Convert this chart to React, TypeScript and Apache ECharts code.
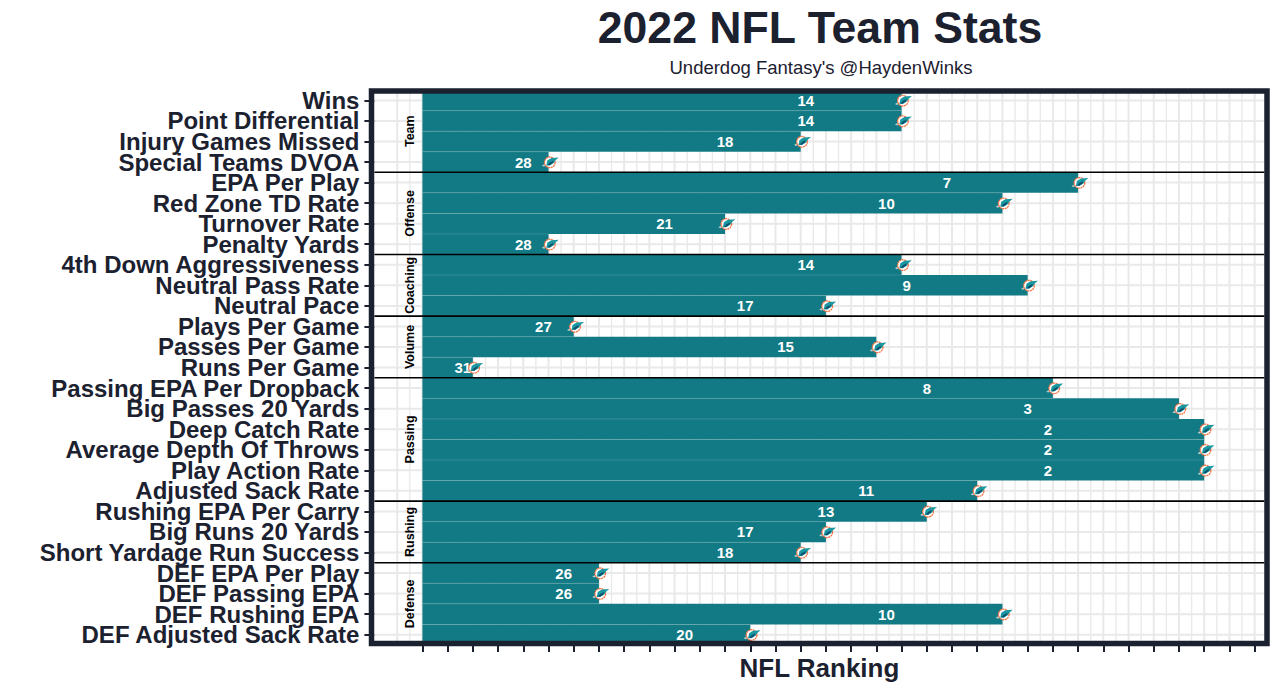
import React, { useEffect, useRef } from "react";
import * as echarts from "echarts";

const statNames = [
  "Wins", "Point Differential", "Injury Games Missed", "Special Teams DVOA",
  "EPA Per Play", "Red Zone TD Rate", "Turnover Rate", "Penalty Yards",
  "4th Down Aggressiveness", "Neutral Pass Rate", "Neutral Pace",
  "Plays Per Game", "Passes Per Game", "Runs Per Game",
  "Passing EPA Per Dropback", "Big Passes 20 Yards", "Deep Catch Rate",
  "Average Depth Of Throws", "Play Action Rate", "Adjusted Sack Rate",
  "Rushing EPA Per Carry", "Big Runs 20 Yards", "Short Yardage Run Success",
  "DEF EPA Per Play", "DEF Passing EPA", "DEF Rushing EPA", "DEF Adjusted Sack Rate",
];
const ranks = [14, 14, 18, 28, 7, 10, 21, 28, 14, 9, 17, 27, 15, 31, 8, 3, 2, 2, 2, 11, 13, 17, 18, 26, 26, 10, 20];
const groupNames = ["Team", "Offense", "Coaching", "Volume", "Passing", "Rushing", "Defense"];
const groupSizes = [4, 4, 3, 3, 6, 3, 4];
const TEAM_COUNT = 33;
const tickValues = Array.from({ length: 34 }, (_, i) => i);
const gridMajor = [-1, ...tickValues];
const gridMinor = [-0.5, ...tickValues.slice(0, -1).map((t) => t + 0.5)];

const INK = "#1c2130";
const TEAL = "#127a84";
const lengths = ranks.map((r) => TEAM_COUNT - r);

const groupRanges: { name: string; start: number; end: number }[] = [];
groupNames.reduce((start, name, i) => {
  groupRanges.push({ name, start, end: start + groupSizes[i] - 1 });
  return start + groupSizes[i];
}, 0);

const poly = (points: number[][], fill: string) => ({
  type: "polygon",
  shape: { points },
  style: { fill, stroke: "none" },
});

export default function App() {
  const ref = useRef<HTMLDivElement>(null);
  useEffect(() => {
    document.body.style.margin = "0";
    const chart = echarts.init(ref.current!, undefined, { renderer: "svg" });
    const scale = 25.22;
    const ruleSeries = (values: number[], width: number, z: number) => ({
      type: "custom",
      silent: true,
      z,
      clip: false,
      data: values.map((v) => [v, 0]),
      renderItem: (params: any, api: any) => {
        const cs = params.coordSys;
        const p = api.coord([api.value(0), 0]);
        return {
          type: "line",
          shape: { x1: p[0], y1: cs.y, x2: p[0], y2: cs.y + cs.height },
          style: { stroke: "#e9e9e9", lineWidth: width },
        };
      },
    });
    const option: any = {
      animation: false,
      backgroundColor: "#ffffff",
      title: [
        {
          text: "2022 NFL Team Stats",
          left: 815,
          top: 0,
          textAlign: "center",
          textStyle: { fontFamily: "Liberation Sans", fontWeight: "bold", fontSize: 44.6, color: INK },
        },
        {
          text: "Underdog Fantasy's @HaydenWinks",
          left: 816,
          top: 53,
          textAlign: "center",
          textStyle: { fontFamily: "Liberation Sans", fontWeight: "normal", fontSize: 18.5, color: INK },
        },
      ],
      grid: { left: 374.4, top: 90.1, width: 890, height: 554.85, outerBoundsMode: "none" },
      xAxis: {
        type: "value",
        min: -48 / scale,
        max: 842 / scale,
        splitLine: { show: false },
        axisLine: { show: false, onZero: false },
        axisLabel: { show: false },
        axisTick: { show: true, length: 7, customValues: tickValues, lineStyle: { color: INK, width: 2 } },
        name: "NFL Ranking",
        nameLocation: "middle",
        nameGap: 10,
        nameTextStyle: { fontFamily: "Liberation Sans", fontWeight: "bold", fontSize: 26, color: INK },
      },
      yAxis: {
        type: "category",
        inverse: true,
        data: statNames,
        splitLine: { show: false },
        axisLine: { show: false, onZero: false },
        axisTick: { show: true, length: 10, alignWithLabel: true, lineStyle: { color: INK, width: 2 } },
        axisLabel: {
          interval: 0,
          margin: 15,
          fontFamily: "Liberation Sans",
          fontWeight: "bold",
          fontSize: 24,
          color: INK,
        },
      },
      series: [
        ruleSeries(gridMajor, 2, 1),
        ruleSeries(gridMinor, 1.3, 1),
        {
          type: "custom",
          silent: true,
          z: 1,
          clip: false,
          data: statNames.map((_, i) => [0, i]),
          renderItem: (params: any, api: any) => {
            const cs = params.coordSys;
            const p = api.coord([0, api.value(1)]);
            return {
              type: "line",
              shape: { x1: cs.x, y1: p[1], x2: cs.x + cs.width, y2: p[1] },
              style: { stroke: "#e9e9e9", lineWidth: 2 },
            };
          },
        },
        {
          type: "bar",
          z: 2,
          barWidth: "100%",
          silent: true,
          itemStyle: { color: TEAL },
          data: lengths.map((v, i) => ({ value: v, rank: ranks[i] })),
          label: {
            show: true,
            position: ["80%", "50%"],
            align: "center",
            verticalAlign: "middle",
            formatter: (p: any) => String(ranks[p.dataIndex]),
            fontFamily: "Liberation Sans",
            fontWeight: "bold",
            fontSize: 15,
            color: "#ffffff",
          },
        },
        {
          type: "custom",
          silent: true,
          z: 3,
          clip: false,
          data: lengths.slice(1).map((v, i) => [Math.min(v, lengths[i]), i]),
          renderItem: (_: any, api: any) => {
            const a = api.coord([0, api.value(1)]);
            const b = api.coord([api.value(0), api.value(1) + 1]);
            const e = api.coord([api.value(0), api.value(1)]);
            const y = (a[1] + b[1]) / 2;
            return {
              type: "line",
              shape: { x1: a[0], y1: y, x2: e[0], y2: y },
              style: { stroke: "rgba(255,255,255,0.14)", lineWidth: 1 },
            };
          },
        },
        {
          type: "custom",
          silent: true,
          z: 4,
          clip: false,
          data: groupRanges.slice(0, -1).map((g) => [0, g.end]),
          renderItem: (params: any, api: any) => {
            const cs = params.coordSys;
            const a = api.coord([0, api.value(1)]);
            const b = api.coord([0, api.value(1) + 1]);
            const y = (a[1] + b[1]) / 2;
            return {
              type: "line",
              shape: { x1: cs.x, y1: y, x2: cs.x + cs.width, y2: y },
              style: { stroke: "#000000", lineWidth: 1.6 },
            };
          },
        },
        {
          type: "custom",
          silent: true,
          z: 4,
          clip: false,
          data: groupRanges.map((g) => [-0.48, g.start, g.end]),
          renderItem: (params: any, api: any) => {
            const a = api.coord([api.value(0), api.value(1)]);
            const b = api.coord([api.value(0), api.value(2)]);
            return {
              type: "text",
              x: a[0],
              y: (a[1] + b[1]) / 2,
              rotation: Math.PI / 2,
              style: {
                text: groupRanges[params.dataIndex].name,
                fill: "#000000",
                font: "bold 12.5px 'Liberation Sans'",
                textAlign: "center",
                textVerticalAlign: "middle",
              },
            };
          },
        },
        {
          type: "custom",
          silent: true,
          z: 5,
          clip: false,
          data: lengths.map((v, i) => [v, i]),
          renderItem: (_: any, api: any) => {
            const p = api.coord([api.value(0), api.value(1)]);
            return {
              type: "group",
              x: p[0] + 1.3,
              y: p[1],
              children: [
                poly([[-8, 3.6], [-4, 1], [-3.5, 3.5], [-6, 4.5]], "#b5cbcd"),
                {
                  type: "circle",
                  shape: { cx: 0, cy: 0.3, r: 5.3 },
                  style: { fill: "#ffffff", stroke: "#f6703f", lineWidth: 1.3, lineDash: [2, 0.6] },
                },
                poly([[-3.5, 3.5], [-2.5, -1.5], [1.5, -4], [9, -4.5], [6, -2], [4, 1], [0, 3.5]], "#1b97a0"),
                poly([[-2.5, 3.2], [0, 0.5], [4, -1.5], [3, 0.8], [0, 3]], "#0c4f6c"),
              ],
            };
          },
        },
      ],
      graphic: {
        type: "rect",
        z: 20,
        silent: true,
        shape: { x: 371.5, y: 91, width: 895.5, height: 552.4 },
        style: { fill: "none", stroke: INK, lineWidth: 5.5 },
      },
    };
    chart.setOption(option);
    return () => chart.dispose();
  }, []);
  return <div ref={ref} style={{ width: 1280, height: 691 }} />;
}
